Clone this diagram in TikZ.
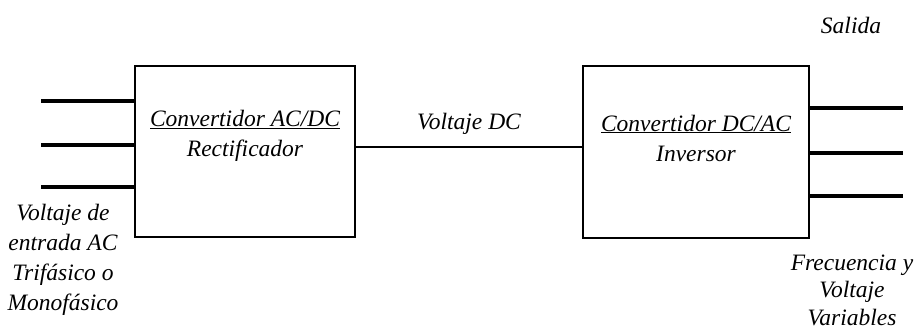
\documentclass[tikz,border=0pt]{standalone}
\usepackage{fontspec}
\setmainfont{Liberation Serif}
\usepackage{tikz}
\usetikzlibrary{
    positioning,
    calc
}

\tikzset{
    convbox/.style={rectangle, draw, line width=2pt, inner sep=0pt},
    wire/.style={line width=3.6pt},
    txt/.style={font=\fontsize{23.5}{30}\selectfont\itshape, align=center, inner sep=0pt}
}

\begin{document}
\begin{tikzpicture}[x=1pt, y=-1pt]

    \useasboundingbox (0,0) rectangle (919,332);

    % Blocks
    \node[convbox, minimum width=220pt, minimum height=171pt] (rect) at (245,151.5) {};
    \node[convbox, minimum width=226pt, minimum height=172pt] (inv) at (696,152) {};

    \node[txt] (recttxt) at (245,136) {\underline{Convertidor AC/DC}\\Rectificador};
    \node[txt] (invtxt) at (696,138) {\underline{Convertidor DC/AC}\\Inversor};

    % Input lines
    \coordinate (in1) at (41,101);
    \coordinate (in2) at (41,145);
    \coordinate (in3) at (41,187);
    \foreach \i in {1,2,3}
        \draw[wire] (in\i) -- (in\i -| rect.west);

    % DC link
    \coordinate (dc) at ([yshift=4.5pt]rect.east);
    \draw[line width=2.4pt] (dc) -- (dc -| inv.west)
        node[midway, above=11pt, txt] (dctxt) {Voltaje DC};

    % Output lines
    \coordinate (out1) at (903,108);
    \coordinate (out2) at (903,153);
    \coordinate (out3) at (903,196);
    \foreach \i in {1,2,3}
        \draw[wire] (out\i -| inv.east) -- (out\i);

    % Labels
    \node[txt] (intxt) at (63,260) {Voltaje de\\entrada AC\\Trif\'asico o\\Monof\'asico};
    \node[txt, font=\fontsize{23.5}{27.5}\selectfont\itshape] (outtxt) at (852,290) {Frecuencia y\\Voltaje\\Variables};
    \node[txt] (saltxt) at (851,25) {Salida};

\end{tikzpicture}
\end{document}
